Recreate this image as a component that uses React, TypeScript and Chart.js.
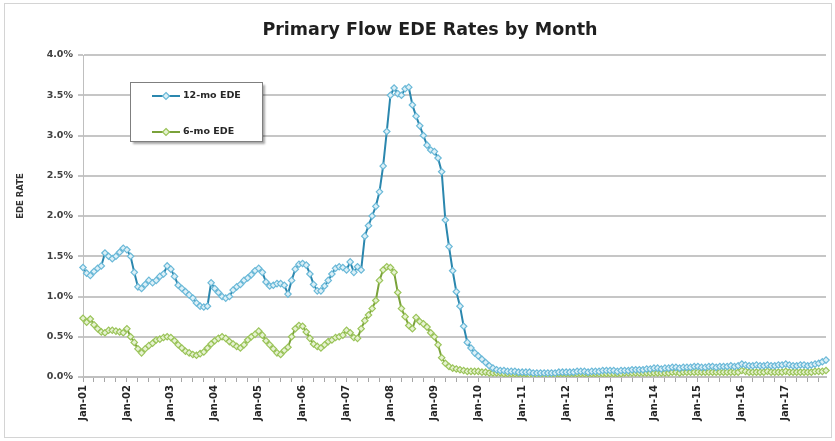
import React, { useEffect, useRef } from "react";
import { Chart, registerables } from "chart.js";

Chart.register(...registerables);

const years = ["01", "02", "03", "04", "05", "06", "07", "08", "09", "10", "11", "12", "13", "14", "15", "16", "17"];
const monthNames = ["Jan", "Feb", "Mar", "Apr", "May", "Jun", "Jul", "Aug", "Sep", "Oct", "Nov", "Dec"];
const categories = years.flatMap((y) => monthNames.map((m) => `${m}-${y}`));

const titleText = "Primary Flow EDE Rates by Month";
const yAxisTitle = "EDE RATE";
const seriesNames = ["12-mo EDE", "6-mo EDE"];
const yTicks = [0, 0.5, 1.0, 1.5, 2.0, 2.5, 3.0, 3.5, 4.0];

// values in percent
const twelveMoEDE = [
  1.36, 1.29, 1.26, 1.31, 1.35, 1.38, 1.54, 1.50, 1.47, 1.50, 1.55, 1.60,
  1.58, 1.50, 1.30, 1.12, 1.10, 1.15, 1.20, 1.17, 1.20, 1.25, 1.28, 1.38,
  1.34, 1.25, 1.14, 1.10, 1.06, 1.02, 0.98, 0.92, 0.88, 0.87, 0.88, 1.17,
  1.10, 1.05, 1.00, 0.98, 1.00, 1.08, 1.12, 1.15, 1.20, 1.23, 1.27, 1.32,
  1.35, 1.30, 1.18, 1.13, 1.14, 1.16, 1.16, 1.14, 1.03, 1.20, 1.34, 1.40,
  1.41, 1.39, 1.28, 1.15, 1.07, 1.07, 1.13, 1.20, 1.28, 1.35, 1.37, 1.36,
  1.33, 1.43, 1.30, 1.37, 1.33, 1.75, 1.88, 2.00, 2.12, 2.30, 2.62, 3.05,
  3.50, 3.59, 3.52, 3.50, 3.58, 3.60, 3.38, 3.24, 3.12, 3.00, 2.88, 2.82,
  2.80, 2.72, 2.55, 1.95, 1.62, 1.32, 1.06, 0.88, 0.63, 0.43, 0.36, 0.30,
  0.26, 0.22, 0.18, 0.14, 0.11, 0.09, 0.08, 0.08, 0.07, 0.07, 0.07, 0.06,
  0.06, 0.06, 0.06, 0.05, 0.05, 0.05, 0.05, 0.05, 0.05, 0.05, 0.06, 0.06,
  0.06, 0.06, 0.06, 0.07, 0.07, 0.07, 0.06, 0.07, 0.07, 0.07, 0.08, 0.08,
  0.08, 0.08, 0.07, 0.08, 0.08, 0.08, 0.09, 0.09, 0.09, 0.09, 0.10, 0.10,
  0.11, 0.11, 0.10, 0.11, 0.11, 0.12, 0.12, 0.11, 0.12, 0.12, 0.12, 0.13,
  0.13, 0.12, 0.12, 0.13, 0.13, 0.12, 0.13, 0.13, 0.13, 0.14, 0.13, 0.14,
  0.16, 0.15, 0.14, 0.14, 0.15, 0.14, 0.14, 0.15, 0.14, 0.14, 0.15, 0.15,
  0.16, 0.15, 0.14, 0.14, 0.15, 0.15, 0.14, 0.15, 0.16, 0.17, 0.19, 0.21,
];

const sixMoEDE = [
  0.73, 0.68, 0.72, 0.65, 0.60, 0.56, 0.55, 0.58, 0.58, 0.57, 0.56, 0.55,
  0.60, 0.50, 0.43, 0.35, 0.30, 0.35, 0.39, 0.42, 0.46, 0.47, 0.49, 0.50,
  0.49, 0.45, 0.40, 0.36, 0.32, 0.30, 0.28, 0.27, 0.29, 0.31, 0.36, 0.41,
  0.45, 0.48, 0.50, 0.48, 0.44, 0.41, 0.38, 0.36, 0.40, 0.46, 0.50, 0.53,
  0.57, 0.52, 0.45, 0.40, 0.35, 0.30, 0.28, 0.33, 0.37, 0.50, 0.60, 0.64,
  0.63, 0.56, 0.48, 0.41, 0.38, 0.36, 0.40, 0.44, 0.46, 0.49, 0.50, 0.52,
  0.58, 0.55, 0.49, 0.48, 0.60, 0.70, 0.77, 0.85, 0.95, 1.20, 1.33, 1.37,
  1.36, 1.30, 1.05, 0.85, 0.75, 0.64, 0.60, 0.74, 0.69, 0.66, 0.62, 0.55,
  0.50, 0.40, 0.24, 0.17, 0.13, 0.11, 0.10, 0.09, 0.08, 0.07, 0.07, 0.07,
  0.07, 0.06, 0.06, 0.05, 0.05, 0.05, 0.05, 0.04, 0.04, 0.04, 0.04, 0.04,
  0.04, 0.04, 0.03, 0.03, 0.03, 0.03, 0.03, 0.03, 0.03, 0.03, 0.04, 0.04,
  0.04, 0.04, 0.04, 0.04, 0.04, 0.04, 0.04, 0.04, 0.04, 0.04, 0.04, 0.04,
  0.04, 0.04, 0.04, 0.04, 0.05, 0.05, 0.05, 0.05, 0.05, 0.05, 0.05, 0.05,
  0.05, 0.05, 0.05, 0.05, 0.05, 0.06, 0.06, 0.05, 0.06, 0.06, 0.06, 0.06,
  0.06, 0.06, 0.06, 0.06, 0.06, 0.06, 0.06, 0.06, 0.06, 0.06, 0.06, 0.06,
  0.08, 0.07, 0.06, 0.06, 0.06, 0.06, 0.06, 0.07, 0.06, 0.06, 0.06, 0.06,
  0.07, 0.06, 0.06, 0.06, 0.06, 0.06, 0.06, 0.06, 0.07, 0.07, 0.07, 0.08,
];

const blueLine = "#2B87AE";
const blueMarkerBorder = "#6BB9D8";
const blueMarkerFill = "#DDF0F7";
const greenLine = "#7AA23A";
const greenMarkerBorder = "#9BC45A";
const greenMarkerFill = "#E6F2D2";
const FONT = '"DejaVu Sans", sans-serif';

function drawDiamond(ctx: CanvasRenderingContext2D, x: number, y: number, r: number, fill: string, stroke: string) {
  ctx.beginPath();
  ctx.moveTo(x, y - r);
  ctx.lineTo(x + r, y);
  ctx.lineTo(x, y + r);
  ctx.lineTo(x - r, y);
  ctx.closePath();
  ctx.fillStyle = fill;
  ctx.fill();
  ctx.strokeStyle = stroke;
  ctx.lineWidth = 1.2;
  ctx.stroke();
}

const decorPlugin = {
  id: "decor",
  afterDraw(chart: any) {
    const ctx: CanvasRenderingContext2D = chart.ctx;
    ctx.save();
    // outer border
    ctx.strokeStyle = "#D4D4D4";
    ctx.lineWidth = 1;
    ctx.strokeRect(4.5, 3.5, 827, 434);

    // title
    ctx.fillStyle = "#1F1F1F";
    ctx.font = `bold 17.5px ${FONT}`;
    ctx.textAlign = "center";
    ctx.textBaseline = "middle";
    ctx.fillText(titleText, 430, 30);

    // y axis title
    ctx.save();
    ctx.translate(21, 196);
    ctx.rotate(-Math.PI / 2);
    ctx.font = `bold 8.5px ${FONT}`;
    ctx.fillStyle = "#333333";
    ctx.fillText(yAxisTitle, 0, 0);
    ctx.restore();

    // legend box
    const bx = 130.5, by = 82.5, bw = 132, bh = 59;
    ctx.save();
    ctx.shadowColor = "rgba(0,0,0,0.35)";
    ctx.shadowOffsetX = 2;
    ctx.shadowOffsetY = 2;
    ctx.shadowBlur = 2;
    ctx.fillStyle = "#FFFFFF";
    ctx.fillRect(bx, by, bw, bh);
    ctx.restore();
    ctx.strokeStyle = "#7F7F7F";
    ctx.lineWidth = 1;
    ctx.strokeRect(bx, by, bw, bh);

    const items = [
      { name: seriesNames[0], y: 96, line: blueLine, fill: blueMarkerFill, stroke: blueMarkerBorder },
      { name: seriesNames[1], y: 132, line: greenLine, fill: greenMarkerFill, stroke: greenMarkerBorder },
    ];
    items.forEach((it) => {
      ctx.strokeStyle = it.line;
      ctx.lineWidth = 2;
      ctx.beginPath();
      ctx.moveTo(152, it.y);
      ctx.lineTo(180, it.y);
      ctx.stroke();
      drawDiamond(ctx, 166, it.y, 3.5, it.fill, it.stroke);
      ctx.fillStyle = "#262626";
      ctx.font = `bold 9.5px ${FONT}`;
      ctx.textAlign = "left";
      ctx.textBaseline = "middle";
      ctx.fillText(it.name, 183, it.y);
    });
    ctx.restore();
  },
};

export default function App() {
  const canvasRef = useRef<HTMLCanvasElement | null>(null);

  useEffect(() => {
    if (!canvasRef.current) return;
    const chart = new Chart(canvasRef.current, {
      type: "line",
      data: {
        labels: categories,
        datasets: [
          {
            label: seriesNames[0],
            data: twelveMoEDE,
            borderColor: blueLine,
            borderWidth: 2,
            pointStyle: "rectRot",
            pointRadius: 3.2,
            pointBorderWidth: 1.2,
            pointBackgroundColor: blueMarkerFill,
            pointBorderColor: blueMarkerBorder,
            tension: 0,
            fill: false,
          },
          {
            label: seriesNames[1],
            data: sixMoEDE,
            borderColor: greenLine,
            borderWidth: 2,
            pointStyle: "rectRot",
            pointRadius: 3.2,
            pointBorderWidth: 1.2,
            pointBackgroundColor: greenMarkerFill,
            pointBorderColor: greenMarkerBorder,
            tension: 0,
            fill: false,
          },
        ],
      },
      options: {
        responsive: false,
        animation: false,
        layout: { padding: { top: 55, right: 9, bottom: 0, left: 0 } },
        plugins: {
          legend: { display: false },
          title: { display: false },
          tooltip: { enabled: false },
        },
        scales: {
          x: {
            type: "category",
            afterFit: (s: any) => {
              s.height = 64;
            },
            grid: {
              display: true,
              drawOnChartArea: false,
              drawTicks: true,
              tickLength: 5,
              color: "#A6A6A6",
            },
            border: { display: true, color: "#BFBFBF", width: 2 },
            ticks: {
              autoSkip: false,
              maxRotation: 90,
              minRotation: 90,
              padding: 3,
              color: "#262626",
              font: { family: FONT, weight: "bold", size: 10 },
              callback: (_v: any, i: number) => (i % 12 === 0 ? categories[i] : i % 3 === 0 ? "" : null),
            },
          },
          y: {
            min: 0,
            max: 4,
            afterFit: (s: any) => {
              s.width = 83;
            },
            afterBuildTicks: (s: any) => {
              s.ticks = yTicks.map((v) => ({ value: v }));
            },
            grid: { color: "#C6C6C6", lineWidth: 2, tickLength: 5 },
            border: { display: true, color: "#BFBFBF", width: 1 },
            ticks: {
              padding: 5,
              color: "#404040",
              font: { family: FONT, weight: "bold", size: 9.5 },
              callback: (v: any) => Number(v).toFixed(1) + "%",
            },
          },
        },
      },
      plugins: [decorPlugin],
    });
    return () => chart.destroy();
  }, []);

  return (
    <div style={{ position: "fixed", left: 0, top: 0, width: 835, height: 441, background: "#FFFFFF" }}>
      <canvas ref={canvasRef} width={835} height={441} style={{ display: "block" }} />
    </div>
  );
}
